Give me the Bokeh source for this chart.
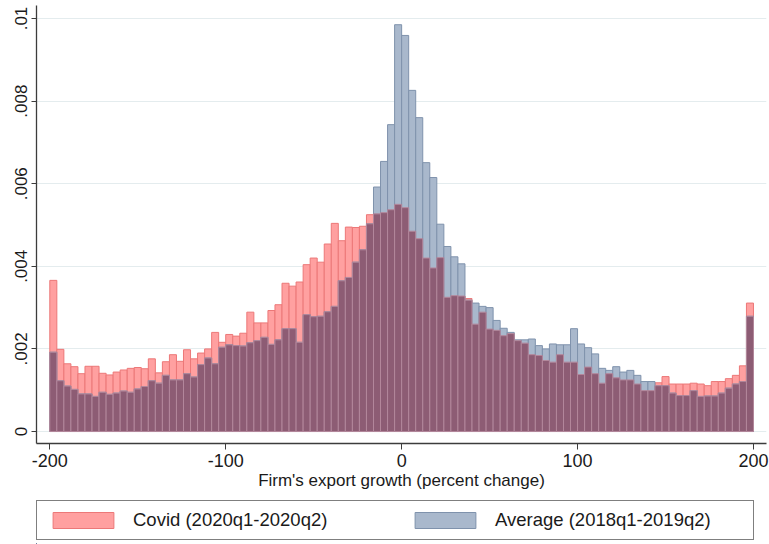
from bokeh.plotting import figure
from bokeh.layouts import column
from bokeh.models import Range1d, FixedTicker, Legend, LegendItem, ColumnDataSource
from bokeh.embed import file_html
from bokeh.resources import INLINE

# ---- data (density per 4-point bin, bins from -200 to 200) ----
bin_start = -200
bin_width = 4

covid = [
    0.00366, 0.00199, 0.00164, 0.00157, 0.00140, 0.00158, 0.00158, 0.00141, 0.00137, 0.00144,
    0.00149, 0.00153, 0.00155, 0.00152, 0.00176, 0.00142, 0.00169, 0.00186, 0.00170, 0.00198,
    0.00176, 0.00190, 0.00200, 0.00240, 0.00216, 0.00235, 0.00231, 0.00238, 0.00289, 0.00263,
    0.00263, 0.00293, 0.00307, 0.00359, 0.00352, 0.00362, 0.00404, 0.00420, 0.00410, 0.00454,
    0.00504, 0.00462, 0.00495, 0.00494, 0.00497, 0.00525, 0.00527, 0.00530, 0.00537, 0.00550,
    0.00542, 0.00485, 0.00467, 0.00420, 0.00396, 0.00421, 0.00325, 0.00329, 0.00328, 0.00322,
    0.00260, 0.00289, 0.00248, 0.00245, 0.00232, 0.00237, 0.00220, 0.00214, 0.00186, 0.00184,
    0.00172, 0.00168, 0.00186, 0.00168, 0.00168, 0.00138, 0.00156, 0.00140, 0.00117, 0.00140,
    0.00130, 0.00125, 0.00125, 0.00115, 0.00099, 0.00099, 0.00118, 0.00133, 0.00115, 0.00115,
    0.00115, 0.00117, 0.00115, 0.00111, 0.00121, 0.00121, 0.00128, 0.00136, 0.00159, 0.00311,
]

average = [
    0.00192, 0.00123, 0.00110, 0.00102, 0.00091, 0.00091, 0.00085, 0.00095, 0.00090, 0.00093,
    0.00098, 0.00095, 0.00103, 0.00109, 0.00123, 0.00117, 0.00136, 0.00125, 0.00125, 0.00140,
    0.00132, 0.00162, 0.00178, 0.00164, 0.00204, 0.00210, 0.00208, 0.00207, 0.00215, 0.00220,
    0.00228, 0.00211, 0.00222, 0.00249, 0.00249, 0.00216, 0.00283, 0.00278, 0.00279, 0.00290,
    0.00303, 0.00365, 0.00373, 0.00410, 0.00440, 0.00503, 0.00592, 0.00654, 0.00743, 0.00985,
    0.00959, 0.00826, 0.00760, 0.00651, 0.00615, 0.00502, 0.00448, 0.00423, 0.00406, 0.00318,
    0.00311, 0.00303, 0.00300, 0.00269, 0.00250, 0.00240, 0.00222, 0.00222, 0.00224, 0.00208,
    0.00200, 0.00212, 0.00210, 0.00210, 0.00249, 0.00212, 0.00203, 0.00188, 0.00153, 0.00148,
    0.00157, 0.00144, 0.00148, 0.00136, 0.00121, 0.00121, 0.00111, 0.00111, 0.00093, 0.00087,
    0.00087, 0.00099, 0.00085, 0.00086, 0.00086, 0.00093, 0.00105, 0.00115, 0.00121, 0.00279,
]

series_names = ["Covid (2020q1-2020q2)", "Average (2018q1-2019q2)"]
x_ticks = [-200, -100, 0, 100, 200]
x_tick_labels = ["-200", "-100", "0", "100", "200"]
y_ticks = [0, 0.002, 0.004, 0.006, 0.008, 0.01]
y_tick_labels = ["0", ".002", ".004", ".006", ".008", ".01"]
x_title = "Firm's export growth (percent change)"

centers = [bin_start + bin_width * (i + 0.5) for i in range(len(covid))]
overlap = [min(a, b) for a, b in zip(covid, average)]
src = ColumnDataSource(dict(x=centers, covid=covid, average=average, overlap=overlap))

FONT = "Liberation Sans"
TXT = "#1a1a1a"
RED_FILL, RED_LINE = "#ffa0a0", "#ec7878"
BLUE_FILL, BLUE_LINE = "#a9b8cc", "#7f92ac"

p = figure(width=769, height=500, output_backend="svg", toolbar_location=None,
           x_range=Range1d(-207.56, 207.4), y_range=Range1d(-0.00029, 0.010315),
           min_border_left=36, min_border_right=3, min_border_top=5, min_border_bottom=57)
p.outline_line_color = None
p.background_fill_color = "white"

p.vbar(x="x", top="covid", bottom=0, width=bin_width, source=src,
       fill_color=RED_FILL, line_color=RED_LINE, line_width=1)
p.vbar(x="x", top="average", bottom=0, width=bin_width, source=src,
       fill_color=BLUE_FILL, line_color=BLUE_LINE, line_width=1)
p.vbar(x="x", top="overlap", bottom=0, width=bin_width, source=src,
       fill_color="#8d5c74", line_color="#b3879b", line_width=1)

# axes
xa = p.xaxis[0]
xa.ticker = FixedTicker(ticks=x_ticks)
xa.major_label_overrides = {t: l for t, l in zip(x_ticks, x_tick_labels)}
xa.axis_label = x_title
xa.axis_label_text_font = FONT
xa.axis_label_text_font_style = "normal"
xa.axis_label_text_font_size = "17px"
xa.axis_label_text_color = TXT
xa.axis_label_standoff = 1
xa.major_label_text_font = FONT
xa.major_label_text_font_size = "18px"
xa.major_label_text_color = TXT
xa.major_label_standoff = 4
xa.major_tick_in = 0
xa.major_tick_out = 6
xa.minor_tick_line_color = None
xa.axis_line_color = "#3c3c3c"
xa.axis_line_width = 1.3
xa.major_tick_line_color = "#3c3c3c"

ya = p.yaxis[0]
ya.ticker = FixedTicker(ticks=y_ticks)
ya.major_label_overrides = {t: l for t, l in zip(y_ticks, y_tick_labels)}
ya.major_label_orientation = "vertical"
ya.major_label_text_font = FONT
ya.major_label_text_font_size = "17px"
ya.major_label_text_color = TXT
ya.major_label_standoff = 4
ya.major_tick_in = 0
ya.major_tick_out = 5
ya.minor_tick_line_color = None
ya.axis_line_color = "#3c3c3c"
ya.axis_line_width = 1.3
ya.major_tick_line_color = "#3c3c3c"

p.xgrid.visible = False
p.ygrid.grid_line_color = "#e4ecee"
p.ygrid.grid_line_width = 1

# ---- legend strip: separate small figure; its bars lie outside its view ----
pl = figure(width=769, height=44, output_backend="svg", toolbar_location=None,
            x_range=Range1d(1000, 1001), y_range=Range1d(0, 1),
            x_axis_location=None, y_axis_location=None,
            min_border_left=0, min_border_right=0, min_border_top=0, min_border_bottom=0)
pl.grid.visible = False
pl.outline_line_color = None
sw_red = pl.vbar(x="x", top="covid", bottom=0, width=bin_width, source=src,
                 fill_color=RED_FILL, line_color=RED_LINE, line_width=1)
sw_blue = pl.vbar(x="x", top="average", bottom=0, width=bin_width, source=src,
                  fill_color=BLUE_FILL, line_color=BLUE_LINE, line_width=1)

legend = Legend(items=[LegendItem(label=series_names[0], renderers=[sw_red]),
                       LegendItem(label=series_names[1], renderers=[sw_blue])],
                orientation="horizontal", location=(0, 4),
                glyph_width=76, glyph_height=20, label_standoff=12, spacing=24,
                padding=8, label_width=250, margin=0,
                border_line_color="black", border_line_width=1,
                background_fill_color="white", background_fill_alpha=1,
                label_text_font=FONT, label_text_font_size="18.5px", label_text_color=TXT)
pl.add_layout(legend, "center")

layout = column(p, pl, spacing=0)
open("out.html", "w").write(file_html(layout, INLINE))
